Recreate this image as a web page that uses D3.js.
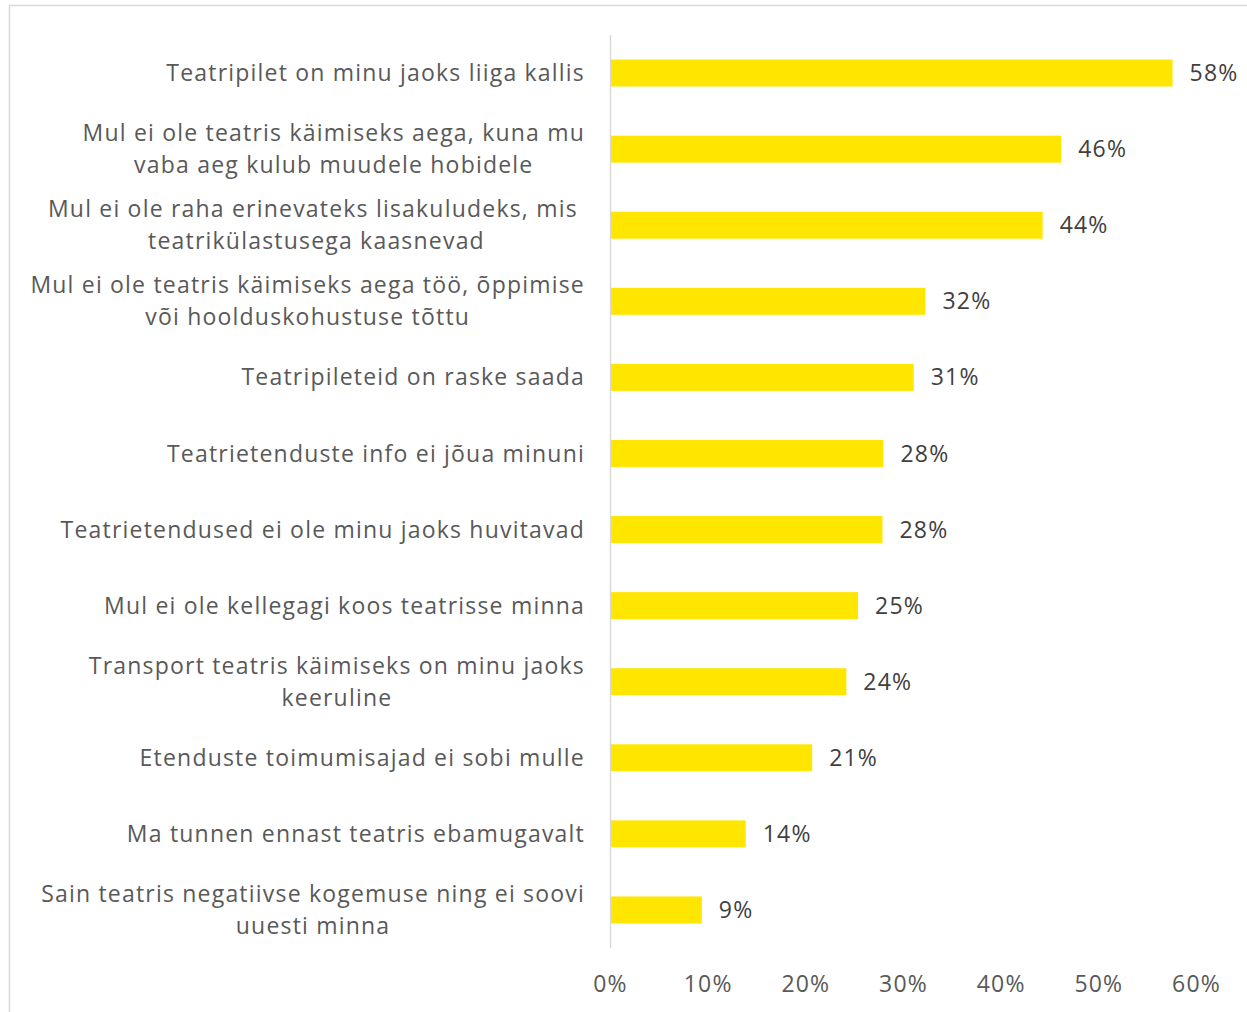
<!DOCTYPE html>
<html><head><meta charset="utf-8">
<script src="https://cdn.jsdelivr.net/npm/d3@7"></script>
<style>body{margin:0;background:#fff}svg{display:block}text{white-space:pre}</style>
</head><body>
<svg id="chart" width="1247" height="1012"></svg>
<script>
const categories = [
  ["Teatripilet on minu jaoks liiga kallis"],
  ["Mul ei ole teatris käimiseks aega, kuna mu", "vaba aeg kulub muudele hobidele"],
  ["Mul ei ole raha erinevateks lisakuludeks, mis ", "teatrikülastusega kaasnevad"],
  ["Mul ei ole teatris käimiseks aega töö, õppimise", "või hoolduskohustuse tõttu"],
  ["Teatripileteid on raske saada"],
  ["Teatrietenduste info ei jõua minuni"],
  ["Teatrietendused ei ole minu jaoks huvitavad"],
  ["Mul ei ole kellegagi koos teatrisse minna"],
  ["Transport teatris käimiseks on minu jaoks", "keeruline"],
  ["Etenduste toimumisajad ei sobi mulle"],
  ["Ma tunnen ennast teatris ebamugavalt"],
  ["Sain teatris negatiivse kogemuse ning ei soovi", "uuesti minna"]
];
const values = [57.6, 46.2, 44.3, 32.3, 31.1, 28.0, 27.9, 25.4, 24.2, 20.7, 13.9, 9.4];
const tickValues = [0, 10, 20, 30, 40, 50, 60];

const svg = d3.select("#chart");
const FONT = "'Open Sans', sans-serif";
const FS = 23;
const LS = 1.2;

// frame
svg.append("path").attr("d", "M9.5,1012 V5.5 H1247")
  .attr("fill", "none").attr("stroke", "#d9d9d9").attr("stroke-width", 1.5);

const x = d3.scaleLinear().domain([0, 60]).range([610, 1196]);
const idx = d3.range(categories.length);
const y = d3.scaleBand().domain(idx).range([35, 948]).paddingInner(0.645).paddingOuter(0.3225);

// bars
svg.append("g").selectAll("rect").data(idx).join("rect")
  .attr("x", x(0)).attr("y", i => y(i))
  .attr("width", i => x(values[i]) - x(0)).attr("height", y.bandwidth())
  .attr("fill", "#FFE600");

// axis line
svg.append("line").attr("x1", 610.5).attr("x2", 610.5).attr("y1", 35).attr("y2", 948)
  .attr("stroke", "#d9d9d9").attr("stroke-width", 1.5);

// value labels
svg.append("g").selectAll("text").data(idx).join("text")
  .attr("x", i => x(values[i]) + 17).attr("y", i => y(i) + y.bandwidth() / 2)
  .attr("dy", "0.35em").attr("font-family", FONT).attr("font-size", FS).attr("letter-spacing", LS)
  .attr("fill", "#404040").text(i => Math.round(values[i]) + "%");

// x axis ticks
const xAxis = d3.axisBottom(x).tickValues(tickValues).tickFormat(d => d + "%").tickSize(0).tickPadding(0);
const gx = svg.append("g").attr("transform", "translate(0,984)").call(xAxis);
gx.select(".domain").remove();
gx.selectAll("text").attr("font-family", FONT).attr("font-size", FS).attr("letter-spacing", LS)
  .attr("fill", "#595959").attr("dy", "0.35em").attr("y", 0);

// category labels
const labelRight = 585;
const lh = 32;
idx.forEach(i => {
  const lines = categories[i];
  const cy = y(i) + y.bandwidth() / 2;
  const t = svg.append("text").attr("font-family", FONT).attr("font-size", FS).attr("letter-spacing", LS)
    .attr("fill", "#595959").attr("text-anchor", "middle");
  const spans = lines.map((l, k) => t.append("tspan").attr("x", 0)
    .attr("y", cy + (k - (lines.length - 1) / 2) * lh).attr("dy", "0.35em").text(l));
  let maxW = 0;
  spans.forEach(s => { maxW = Math.max(maxW, s.node().getComputedTextLength()); });
  spans.forEach(s => s.attr("x", labelRight - maxW / 2));
});
</script>
</body></html>
